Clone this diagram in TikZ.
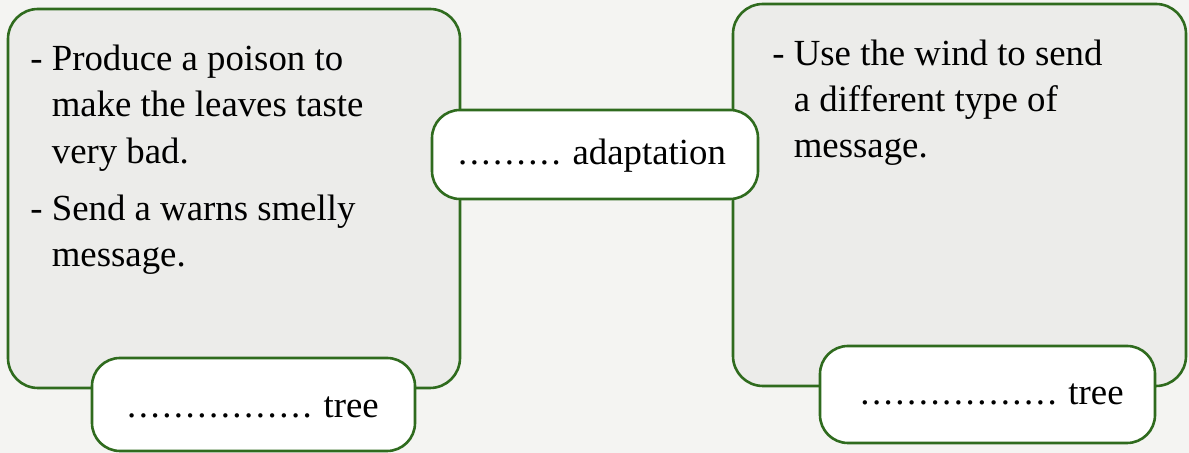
\documentclass[tikz,border=0pt]{standalone}
\usepackage{fontspec}
\setmainfont{Liberation Serif}
\usetikzlibrary{positioning}
\definecolor{leafgreen}{HTML}{2F6B1E}
\definecolor{paper}{HTML}{F4F4F2}
\definecolor{boxgray}{HTML}{ECECEA}
\tikzset{
  bigbox/.style={draw=leafgreen, line width=1.3pt, rounded corners=15pt, fill=boxgray},
  tagbox/.style={draw=leafgreen, line width=1.3pt, rounded corners=14pt, fill=white},
  txt/.style={font=\fontsize{18.4}{23.2}\selectfont, inner sep=0pt, align=left}
}
\newcommand\gapdots[1]{\foreach \d in {1,...,#1}{\makebox[0.318em][l]{.}}}

\begin{document}
\begin{tikzpicture}[x=0.5pt,y=-0.5pt]

\fill[paper] (0,0) rectangle (1189,453);
\useasboundingbox (0,0) rectangle (1189,453);

%% big boxes
\coordinate(L1) at(8, 9);
\coordinate(L0) at(460, 388);
\coordinate(R1) at(733, 4);
\coordinate(R0) at(1186, 386);

\draw[bigbox] (L1) rectangle (L0);
\draw[bigbox] (R1) rectangle (R0);

%% last line sits on the given baseline
\node[txt, anchor=base west] (LeftText) at(30, 267)
  {- Produce a poison to\\
   \hspace*{0.583em}make the leaves taste\\
   \hspace*{0.583em}very bad.\\[5.5pt]
   - Send a warns smelly\\
   \hspace*{0.583em}message.};

\node[txt, anchor=base west] (RightText) at(772, 158)
  {- Use the wind to send\\
   \hspace*{0.583em}a different type of\\
   \hspace*{0.583em}message.};

%% middle box
\coordinate(M1) at(432, 110);
\coordinate(M0) at(758, 199);
\draw[tagbox] (M1) rectangle (M0);
\node[txt, anchor=base] (Adapt) at(592, 165) {\gapdots{9} adaptation};

%% tree boxes
\coordinate(TL1) at(92, 358);
\coordinate(TL0) at(415, 451);
\coordinate(TR1) at(820, 346);
\coordinate(TR0) at(1155, 443);

\draw[tagbox] (TL1) rectangle (TL0);
\draw[tagbox] (TR1) rectangle (TR0);

\node[txt, anchor=base] (TreeL) at(253, 418) {\gapdots{16} tree};
\node[txt, anchor=base] (TreeR) at(992, 405) {\gapdots{17} tree};

\end{tikzpicture}
\end{document}
